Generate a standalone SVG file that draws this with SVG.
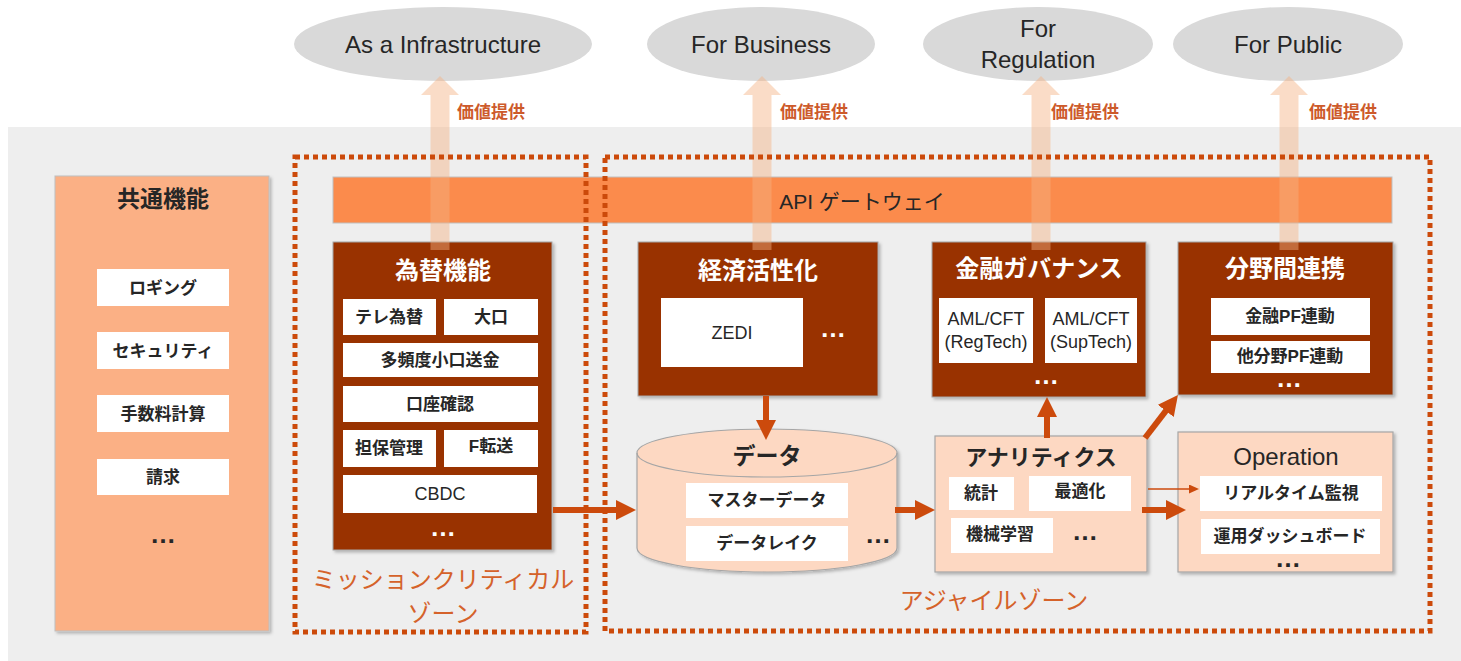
<svg xmlns="http://www.w3.org/2000/svg" width="1461" height="661" viewBox="0 0 1461 661">
<style>
text{font-family:"Liberation Sans","Noto Sans CJK JP",sans-serif;text-anchor:middle;fill:#262626}
.c{dominant-baseline:central}
.b{font-weight:bold}
.goal{fill:#d9d9d9}
.gt{font-size:24px}
.dark{fill:#993300;stroke:#a6a6a6;stroke-width:1}
.dt{fill:#ffffff;font-size:24px;font-weight:bold}
.wb{fill:#ffffff}
.it{font-size:17px;font-weight:bold}
.lt{font-size:18px}
.light{fill:#fdd8c2;stroke:#a6a6a6;stroke-width:1.2}
.dots{font-size:26px;font-weight:bold}
.wd{fill:#ffffff}
.zone{fill:none;stroke:#cc4a0a;stroke-width:5;stroke-dasharray:5 4}
.zl{fill:#d5622a;font-size:24px}
.val{fill:#f4b183;opacity:0.45}
.vt{fill:#cd5a2b;font-size:17px;font-weight:bold;text-anchor:start}
.conn{stroke:#cc4a0c;stroke-width:6;fill:none}
.thin{stroke:#cc4a0c;stroke-width:1.5;fill:none}
</style>
<defs>
<marker id="ah" markerUnits="userSpaceOnUse" markerWidth="22" markerHeight="22" refX="2" refY="10" orient="auto">
<path d="M0,0 L20,10 L0,20 z" fill="#cc4a0c"/>
</marker>
<marker id="ahs" markerUnits="userSpaceOnUse" markerWidth="12" markerHeight="12" refX="1" refY="4.5" orient="auto">
<path d="M0,0 L10,4.5 L0,9 z" fill="#cc4a0c"/>
</marker>
<filter id="sh" x="-10%" y="-10%" width="130%" height="130%">
<feDropShadow dx="2" dy="2" stdDeviation="1.5" flood-color="#000000" flood-opacity="0.25"/>
</filter>
</defs>

<rect x="8" y="127" width="1453" height="534" fill="#eeeeee"/>

<g id="goal-infra"><ellipse class="goal" cx="443" cy="44" rx="149" ry="37"/><text class="gt c" x="443" y="44">As a Infrastructure</text></g>
<g id="goal-business"><ellipse class="goal" cx="761" cy="44" rx="114" ry="37"/><text class="gt c" x="761" y="44">For Business</text></g>
<g id="goal-regulation"><ellipse class="goal" cx="1038" cy="44" rx="115" ry="37"/><text class="gt c" x="1038" y="28">For</text><text class="gt c" x="1038" y="59">Regulation</text></g>
<g id="goal-public"><ellipse class="goal" cx="1288" cy="44" rx="115" ry="37"/><text class="gt c" x="1288" y="44">For Public</text></g>

<g id="common">
<rect x="55" y="176" width="214" height="455" fill="#fbb085" stroke="#bfbfbf" stroke-width="1" filter="url(#sh)"/>
<text class="c b" x="163" y="199" style="font-size:23px">共通機能</text>
<rect class="wb" x="97" y="269" width="132" height="37"/><text class="c it" x="163" y="288">ロギング</text>
<rect class="wb" x="97" y="332" width="132" height="37"/><text class="c it" x="163" y="351">セキュリティ</text>
<rect class="wb" x="97" y="395" width="132" height="37"/><text class="c it" x="163" y="414">手数料計算</text>
<rect class="wb" x="97" y="459" width="132" height="36"/><text class="c it" x="163" y="477">請求</text>
<text class="dots" x="163" y="543">…</text>
</g>

<g id="api-gateway">
<rect x="333" y="177" width="1059" height="46" fill="#fb8b4c" stroke="#bfbfbf" stroke-width="1"/>
<text class="c" x="862" y="201" style="font-size:21px">API ゲートウェイ</text>
</g>

<g id="kawase">
<rect class="dark" x="333" y="242" width="219" height="308" filter="url(#sh)"/>
<text class="dt c" x="443" y="270">為替機能</text>
<rect class="wb" x="343" y="299" width="93" height="36"/><text class="c it" x="389" y="317">テレ為替</text>
<rect class="wb" x="444" y="299" width="94" height="36"/><text class="c it" x="491" y="317">大口</text>
<rect class="wb" x="343" y="343" width="195" height="34"/><text class="c it" x="440" y="360">多頻度小口送金</text>
<rect class="wb" x="343" y="386" width="195" height="36"/><text class="c it" x="440" y="404">口座確認</text>
<rect class="wb" x="343" y="430" width="93" height="37"/><text class="c it" x="389" y="448">担保管理</text>
<rect class="wb" x="444" y="430" width="94" height="37"/><text class="c it" x="491" y="446">F転送</text>
<rect class="wb" x="343" y="475" width="194" height="38"/><text class="c lt" x="440" y="494">CBDC</text>
<text class="dots" x="443" y="536" style="fill:#ffffff">…</text>
</g>

<g id="keizai">
<rect class="dark" x="638" y="242" width="240" height="154" filter="url(#sh)"/>
<text class="dt c" x="758" y="270">経済活性化</text>
<rect class="wb" x="661" y="298" width="142" height="69"/><text class="c lt" x="732" y="333">ZEDI</text>
<text class="dots" x="833" y="337" style="fill:#ffffff">…</text>
</g>

<g id="kinyu-gov">
<rect class="dark" x="932" y="242" width="214" height="155" filter="url(#sh)"/>
<text class="dt c" x="1039" y="268">金融ガバナンス</text>
<rect class="wb" x="939" y="298" width="94" height="65"/>
<text class="c lt" x="986" y="319">AML/CFT</text><text class="c lt" x="986" y="342">(RegTech)</text>
<rect class="wb" x="1045" y="298" width="92" height="65"/>
<text class="c lt" x="1091" y="319">AML/CFT</text><text class="c lt" x="1091" y="342">(SupTech)</text>
<text class="dots" x="1046" y="384" style="fill:#ffffff">…</text>
</g>

<g id="bunya">
<rect class="dark" x="1178" y="242" width="215" height="153" filter="url(#sh)"/>
<text class="dt c" x="1285" y="268">分野間連携</text>
<rect class="wb" x="1211" y="298" width="159" height="37"/><text class="c it" x="1290" y="316">金融PF連動</text>
<rect class="wb" x="1211" y="341" width="159" height="32"/><text class="c it" x="1290" y="356">他分野PF連動</text>
<text class="dots" x="1289" y="387" style="fill:#ffffff">…</text>
</g>

<g id="data">
<path d="M637,453 A130,24 0 0,1 897,453 L897,548 A130,24 0 0,1 637,548 Z" fill="#fdd8c2" stroke="#a6a6a6" stroke-width="1.2" filter="url(#sh)"/>
<path d="M637,453 A130,24 0 0,0 897,453" fill="none" stroke="#a6a6a6" stroke-width="1.2"/>
<text class="c b" x="767" y="456" style="font-size:23px">データ</text>
<rect class="wb" x="686" y="483" width="162" height="35"/><text class="c it" x="767" y="500">マスターデータ</text>
<rect class="wb" x="686" y="526" width="162" height="35"/><text class="c it" x="767" y="543">データレイク</text>
<text class="dots" x="878" y="543">…</text>
</g>

<g id="analytics">
<rect class="light" x="935" y="436" width="212" height="136" filter="url(#sh)"/>
<text class="c b" x="1041" y="457" style="font-size:22px">アナリティクス</text>
<rect class="wb" x="949" y="477" width="65" height="33"/><text class="c it" x="981" y="493">統計</text>
<rect class="wb" x="1029" y="476" width="102" height="35"/><text class="c it" x="1080" y="491">最適化</text>
<rect class="wb" x="951" y="518" width="102" height="35"/><text class="c it" x="1000" y="534">機械学習</text>
<text class="dots" x="1085" y="540">…</text>
</g>

<g id="operation">
<rect class="light" x="1178" y="432" width="215" height="140" filter="url(#sh)"/>
<text class="c" x="1286" y="456" style="font-size:24px">Operation</text>
<rect class="wb" x="1200" y="476" width="182" height="35"/><text class="c it" x="1291" y="493">リアルタイム監視</text>
<rect class="wb" x="1201" y="519" width="179" height="35"/><text class="c it" x="1290" y="536">運用ダッシュボード</text>
<text class="dots" x="1288" y="567">…</text>
</g>

<g id="value-arrows">
<polygon class="val" points="430.5,250 430.5,95 421,95 440,76 459,95 449.5,95 449.5,250"/>
<polygon class="val" points="752.5,250 752.5,95 743,95 762,76 781,95 771.5,95 771.5,250"/>
<polygon class="val" points="1031.5,250 1031.5,95 1022,95 1041,76 1060,95 1050.5,95 1050.5,250"/>
<polygon class="val" points="1279.5,250 1279.5,95 1270,95 1289,76 1308,95 1298.5,95 1298.5,250"/>
<text class="vt c" x="457" y="112">価値提供</text>
<text class="vt c" x="780" y="112">価値提供</text>
<text class="vt c" x="1051" y="112">価値提供</text>
<text class="vt c" x="1309" y="112">価値提供</text>
</g>

<g id="zone-mission">
<rect class="zone" x="295" y="157" width="291" height="475"/>
<text class="zl c" x="443" y="579">ミッションクリティカル</text>
<text class="zl c" x="443" y="613">ゾーン</text>
</g>
<g id="zone-agile">
<rect class="zone" x="605" y="157" width="825" height="474"/>
<text class="zl c" x="994" y="600">アジャイルゾーン</text>
</g>

<g id="connectors">
<line class="conn" x1="553" y1="510" x2="618" y2="510" marker-end="url(#ah)"/>
<line class="conn" x1="766" y1="396" x2="766" y2="422" marker-end="url(#ah)"/>
<line class="conn" x1="895" y1="510" x2="917" y2="510" marker-end="url(#ah)"/>
<line class="conn" x1="1047" y1="438" x2="1047" y2="415" marker-end="url(#ah)"/>
<line class="conn" x1="1145" y1="438" x2="1167" y2="409.3" marker-end="url(#ah)"/>
<line class="thin" x1="1148" y1="489" x2="1190" y2="489" marker-end="url(#ahs)"/>
<line class="conn" x1="1142" y1="510" x2="1168" y2="510" marker-end="url(#ah)"/>
</g>
</svg>
